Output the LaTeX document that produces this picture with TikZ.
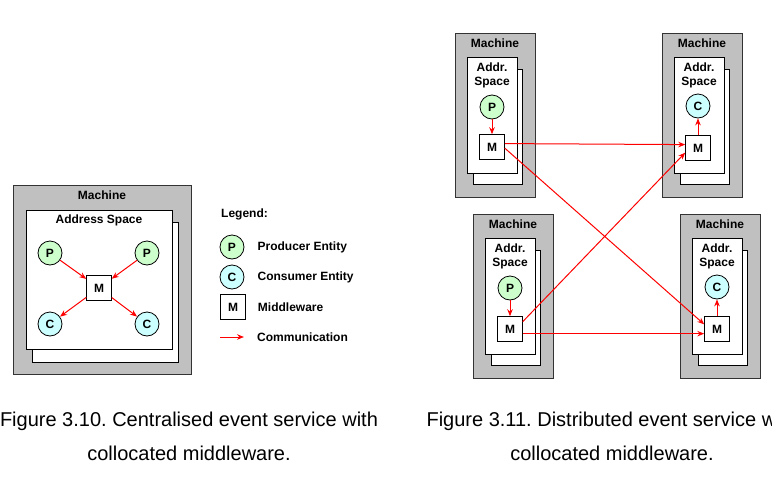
\documentclass[tikz,border=0pt]{standalone}
\usepackage{fontspec}
\setmainfont{Liberation Sans}
\frenchspacing
\usetikzlibrary{arrows.meta, positioning}

\definecolor{machgrey}{RGB}{192,192,192}
\definecolor{prodgreen}{RGB}{204,255,204}
\definecolor{conscyan}{RGB}{204,255,255}
\definecolor{commred}{RGB}{255,0,0}

\tikzset{
	machine/.style	= {draw=black!80, fill=machgrey, line width=1pt, inner sep=0pt},
	space/.style	= {draw=black, fill=white, line width=1pt, inner sep=0pt},
	lbl/.style		= {font=\bfseries\fontsize{12}{14}\selectfont, align=center, inner sep=0pt},
	prod/.style		= {circle, draw=black, fill=prodgreen, minimum size=24pt, inner sep=0pt, line width=0.8pt, font=\bfseries\fontsize{12}{14}\selectfont},
	cons/.style		= {prod, fill=conscyan},
	mware/.style	= {draw=black, fill=white, minimum size=24.5pt, inner sep=0pt, line width=1pt, font=\bfseries\fontsize{12}{14}\selectfont},
	comm/.style		= {-{Stealth[length=7pt, width=5.5pt]}, draw=commred, line width=1pt},
	caption/.style	= {font=\fontsize{20}{34}\selectfont, align=center, inner sep=0pt}
}

\begin{document}
\begin{tikzpicture}[x=1pt, y=-1pt]

\clip (0,0) rectangle (772,480);

% centralised
\node[machine, minimum width=178pt, minimum height=189pt]	(mach)	at (102,279.5)	{};
\node[lbl]									(machlbl)	at (102,195)	{Machine};
\node[space, minimum width=146pt, minimum height=140pt]	(spaceb)	at (105,292)	{};
\node[space, minimum width=146pt, minimum height=139pt]	(space)		at (99,279.5)	{};
\node[lbl]									(spacelbl)	at (99,220)		{Address Space};

\node[prod]		(p1)	at (50,253)		{P};
\node[prod]		(p2)	at (147,253)	{P};
\node[mware]	(mw)	at (99,288)		{M};
\node[cons]		(c1)	at (50,324)		{C};
\node[cons]		(c2)	at (147,324)	{C};

\draw[comm]	(p1)	--	(mw);
\draw[comm]	(p2)	--	(mw);
\draw[comm]	(mw)	--	(c1);
\draw[comm]	(mw)	--	(c2);

% legend
\node[lbl, anchor=west]		(leg)	at (221,214)	{Legend:};
\node[prod]					(lp)	at (232,247)	{P};
\node[cons]					(lc)	at (232,277)	{C};
\node[mware]				(lm)	at (233,307)	{M};
\coordinate					(la1)	at (220,337);
\coordinate					(la2)	at (244,337);
\node[lbl, right=13pt of lp]	(lptxt)	{Producer Entity};
\node[lbl, right=13pt of lc]	(lctxt)	{Consumer Entity};
\node[lbl, right=12pt of lm]	(lmtxt)	{Middleware};
\node[lbl, anchor=west]		(latxt)	at (257,337)	{Communication};
\draw[comm]	(la1)	--	(la2);

% distributed, top left
\node[machine, minimum width=80pt, minimum height=164pt]	(tlmach)	at (495,115)	{};
\node[lbl]								(tllbl)		at (495,43)		{Machine};
\node[space, minimum width=49pt, minimum height=115pt]	(tlspaceb)	at (497.5,126.5)	{};
\node[space, minimum width=50pt, minimum height=116pt]	(tlspace)	at (492,115)	{};
\node[lbl]								(tladdr)	at (492,75)		{Addr.\\Space};
\node[prod]								(tlp)		at (492,107)	{P};
\node[mware]							(tlm)		at (492,147)	{M};

% distributed, top right
\node[machine, minimum width=80pt, minimum height=164pt]	(trmach)	at (702,115)	{};
\node[lbl]								(trlbl)		at (702,43)		{Machine};
\node[space, minimum width=49pt, minimum height=115pt]	(trspaceb)	at (704.5,126.5)	{};
\node[space, minimum width=50pt, minimum height=116pt]	(trspace)	at (699,115)	{};
\node[lbl]								(traddr)	at (699,75)		{Addr.\\Space};
\node[cons]								(trc)		at (698,106)	{C};
\node[mware]							(trm)		at (698,148)	{M};

% distributed, bottom left
\node[machine, minimum width=80pt, minimum height=164pt]	(blmach)	at (513,296)	{};
\node[lbl]								(bllbl)		at (513,224)	{Machine};
\node[space, minimum width=49pt, minimum height=115pt]	(blspaceb)	at (515.5,307.5)	{};
\node[space, minimum width=50pt, minimum height=116pt]	(blspace)	at (510,296)	{};
\node[lbl]								(bladdr)	at (510,256)	{Addr.\\Space};
\node[prod]								(blp)		at (510,288)	{P};
\node[mware]							(blm)		at (510,329)	{M};

% distributed, bottom right
\node[machine, minimum width=80pt, minimum height=164pt]	(brmach)	at (720,296)	{};
\node[lbl]								(brlbl)		at (720,224)	{Machine};
\node[space, minimum width=49pt, minimum height=115pt]	(brspaceb)	at (722.5,307.5)	{};
\node[space, minimum width=50pt, minimum height=116pt]	(brspace)	at (717,296)	{};
\node[lbl]								(braddr)	at (717,256)	{Addr.\\Space};
\node[cons]								(brc)		at (717,287)	{C};
\node[mware]							(brm)		at (717,329)	{M};

\draw[comm]	(tlp)		--	(tlm);
\draw[comm]	(trm)		--	(trc);
\draw[comm]	(blp)		--	(blm);
\draw[comm]	(brm)		--	(brc);
\draw[comm]	(tlm.15)	--	(trm.165);
\draw[comm]	(tlm.-5)	--	(brm.160);
\draw[comm]	(blm.30)	--	(trm.200);
\draw[comm]	(blm.-20)	--	(brm.200);

% captions
\node[caption]	(cap1)	at (189,436)	{Figure 3.10. Centralised event service with\\collocated middleware.};
\node[caption]	(cap2)	at (612,436)	{Figure 3.11. Distributed event service with\\collocated middleware.};

\end{tikzpicture}
\end{document}
